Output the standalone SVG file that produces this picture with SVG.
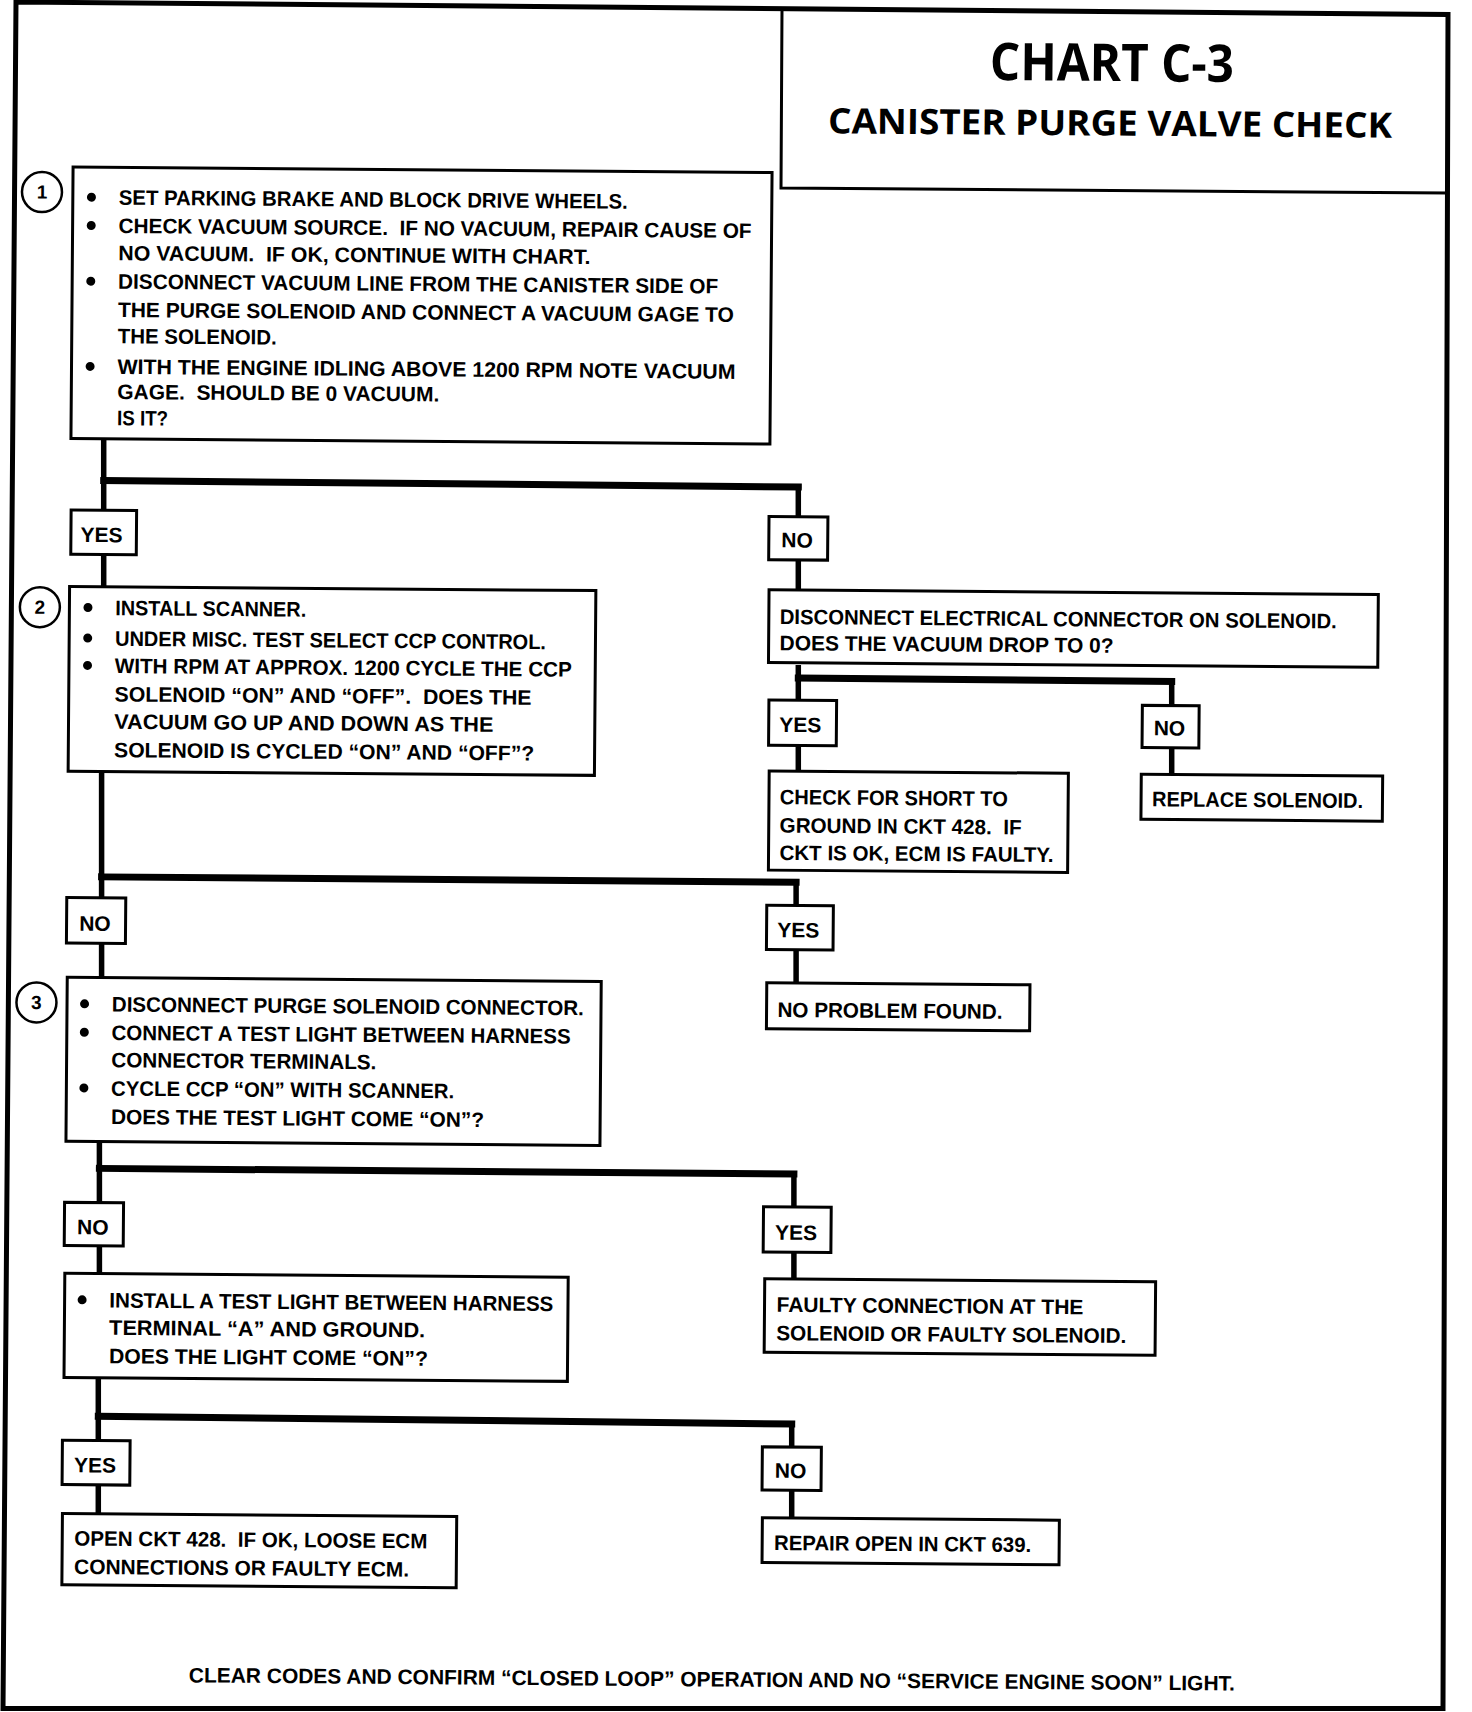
<svg xmlns="http://www.w3.org/2000/svg" width="1472" height="1712" viewBox="0 0 1472 1712">
<style>
.box{fill:#fff;stroke:#000;stroke-width:3}
.lbl{fill:#fff;stroke:#000;stroke-width:3}
.t{font-family:"Liberation Sans",Arial,sans-serif;font-weight:700;font-size:21px;fill:#000;white-space:pre}
.ti{font-family:"Open Sans","Liberation Sans",sans-serif;font-weight:700;fill:#000}
.c{text-anchor:middle}
.v{stroke:#000;stroke-width:5.5;fill:none}
.h{stroke:#000;stroke-width:7;fill:none;stroke-linecap:square}
.num{fill:#fff;stroke:#000;stroke-width:2.5}
.n{font-family:"Liberation Sans",Arial,sans-serif;font-weight:700;font-size:19px;text-anchor:middle}
</style>
<rect width="1472" height="1712" fill="#fff"/>
<g id="frame">
<polygon points="16,2 1448,14.5 1443,1708.5 3,1708.5" fill="none" stroke="#000" stroke-width="5"/>
</g>
<g id="title">
<polyline points="782,9 781,188 1448,193" fill="none" stroke="#000" stroke-width="3"/>
<text class="ti" x="990" y="81" style="font-size:52px" textLength="244" lengthAdjust="spacingAndGlyphs" transform="rotate(0.45 1112 64)">CHART C-3</text>
<text class="ti" x="828" y="135.5" style="font-size:35px" textLength="564" lengthAdjust="spacingAndGlyphs" transform="rotate(0.45 1110 123)">CANISTER PURGE VALVE CHECK</text>
</g>
<g id="connectors">
<line class="v" x1="103.7" y1="440" x2="103.7" y2="588"/>
<line class="h" x1="103.7" y1="480.5" x2="798.3" y2="487"/>
<line class="v" x1="798.3" y1="484" x2="798.3" y2="593"/>
<line class="v" x1="798.3" y1="665" x2="798.3" y2="773"/>
<line class="h" x1="798.3" y1="678.1" x2="1171.7" y2="681.4"/>
<line class="v" x1="1171.7" y1="679" x2="1171.7" y2="776"/>
<line class="v" x1="101.6" y1="773" x2="101.6" y2="980"/>
<line class="h" x1="101.6" y1="876.9" x2="796.1" y2="882.3"/>
<line class="v" x1="796.1" y1="879" x2="796.1" y2="985"/>
<line class="v" x1="99.4" y1="1143" x2="99.4" y2="1276"/>
<line class="h" x1="99.4" y1="1168.4" x2="793.9" y2="1173.9"/>
<line class="v" x1="793.9" y1="1171" x2="793.9" y2="1281"/>
<line class="v" x1="98.3" y1="1379" x2="98.3" y2="1516"/>
<line class="h" x1="98.3" y1="1416.3" x2="791.7" y2="1424"/>
<line class="v" x1="791.7" y1="1421" x2="791.7" y2="1520"/>
</g>
<g id="labels">
<g id="lblA" transform="rotate(0.45 103.7 532.3)"><rect class="lbl" x="70.95" y="510.2" width="65.5" height="44.2"/><text class="t c" x="101.6" y="542.1">YES</text></g>
<g id="lblB" transform="rotate(0.45 798.3 538.3)"><rect class="lbl" x="768.85" y="516.7" width="58.9" height="43.2"/><text class="t c" x="797.2" y="547.5">NO</text></g>
<g id="lblD" transform="rotate(0.45 802.6 722.9)"><rect class="lbl" x="768.75" y="700.25" width="67.7" height="45.3"/><text class="t c" x="800.4" y="732.1">YES</text></g>
<g id="lblF" transform="rotate(0.45 1170.6 726.7)"><rect class="lbl" x="1142.2" y="705.6" width="56.8" height="42.2"/><text class="t c" x="1169.5" y="735.4">NO</text></g>
<g id="lblH" transform="rotate(0.45 96.1 920.5)"><rect class="lbl" x="66.6" y="897.8" width="59" height="45.4"/><text class="t c" x="95" y="930.8">NO</text></g>
<g id="lblI" transform="rotate(0.45 799.9 927.6)"><rect class="lbl" x="766.6" y="905.5" width="66.6" height="44.2"/><text class="t c" x="798.3" y="937.4">YES</text></g>
<g id="lblK" transform="rotate(0.45 93.9 1224.2)"><rect class="lbl" x="64.4" y="1202.6" width="59" height="43.2"/><text class="t c" x="92.8" y="1234.4">NO</text></g>
<g id="lblL" transform="rotate(0.45 797.2 1229.6)"><rect class="lbl" x="763.35" y="1206.95" width="67.7" height="45.3"/><text class="t c" x="796.1" y="1239.9">YES</text></g>
<g id="lblN" transform="rotate(0.45 96.1 1462.7)"><rect class="lbl" x="62.25" y="1440.55" width="67.7" height="44.3"/><text class="t c" x="95" y="1472.5">YES</text></g>
<g id="lblO" transform="rotate(0.45 791.7 1468.7)"><rect class="lbl" x="762.2" y="1447.1" width="59" height="43.2"/><text class="t c" x="790.6" y="1478">NO</text></g>
</g>
<g id="step1" transform="rotate(0.45 421.5 305.5)">
<rect class="box" x="72" y="169.75" width="699" height="271.5"/>
<circle class="num" cx="41.1" cy="195" r="20"/>
<text class="n" x="41.1" y="201.5">1</text>
<circle cx="90.6" cy="199.8" r="4.5"/>
<circle cx="90.6" cy="228.1" r="4.5"/>
<circle cx="90.6" cy="283.8" r="4.5"/>
<circle cx="90.6" cy="369" r="4.5"/>
<text class="t" x="118" y="207.1" textLength="509" lengthAdjust="spacingAndGlyphs">SET PARKING BRAKE AND BLOCK DRIVE WHEELS.</text>
<text class="t" x="118" y="235.4" textLength="633" lengthAdjust="spacingAndGlyphs">CHECK VACUUM SOURCE.  IF NO VACUUM, REPAIR CAUSE OF</text>
<text class="t" x="118" y="262.7" textLength="472" lengthAdjust="spacingAndGlyphs">NO VACUUM.  IF OK, CONTINUE WITH CHART.</text>
<text class="t" x="118" y="291.1" textLength="600" lengthAdjust="spacingAndGlyphs">DISCONNECT VACUUM LINE FROM THE CANISTER SIDE OF</text>
<text class="t" x="118" y="319.5" textLength="616" lengthAdjust="spacingAndGlyphs">THE PURGE SOLENOID AND CONNECT A VACUUM GAGE TO</text>
<text class="t" x="118" y="345.7" textLength="159" lengthAdjust="spacingAndGlyphs">THE SOLENOID.</text>
<text class="t" x="118" y="376.3" textLength="618" lengthAdjust="spacingAndGlyphs">WITH THE ENGINE IDLING ABOVE 1200 RPM NOTE VACUUM</text>
<text class="t" x="118" y="401.4" textLength="322" lengthAdjust="spacingAndGlyphs">GAGE.  SHOULD BE 0 VACUUM.</text>
<text class="t" x="118" y="427.6" textLength="51" lengthAdjust="spacingAndGlyphs">IS IT?</text>
</g>
<g id="step2" transform="rotate(0.45 332 680.9)">
<rect class="box" x="68.85" y="588.5" width="526.3" height="184.8"/>
<circle class="num" cx="39.3" cy="609.5" r="20"/>
<text class="n" x="39.3" y="616">2</text>
<circle cx="87.4" cy="609.4" r="4.5"/>
<circle cx="87.4" cy="640" r="4.5"/>
<circle cx="87.4" cy="667.3" r="4.5"/>
<text class="t" x="114.7" y="616.9" textLength="191" lengthAdjust="spacingAndGlyphs">INSTALL SCANNER.</text>
<text class="t" x="114.7" y="647.5" textLength="431" lengthAdjust="spacingAndGlyphs">UNDER MISC. TEST SELECT CCP CONTROL.</text>
<text class="t" x="114.7" y="674.8" textLength="457" lengthAdjust="spacingAndGlyphs">WITH RPM AT APPROX. 1200 CYCLE THE CCP</text>
<text class="t" x="114.7" y="703.2" textLength="417" lengthAdjust="spacingAndGlyphs">SOLENOID “ON” AND “OFF”.  DOES THE</text>
<text class="t" x="114.7" y="730.5" textLength="379" lengthAdjust="spacingAndGlyphs">VACUUM GO UP AND DOWN AS THE</text>
<text class="t" x="114.7" y="758.9" textLength="420" lengthAdjust="spacingAndGlyphs">SOLENOID IS CYCLED “ON” AND “OFF”?</text>
</g>
<g id="disconnectElectrical" transform="rotate(0.45 1073.4 628.5)">
<rect class="box" x="768.75" y="592.15" width="609.3" height="72.7"/>
<text class="t" x="779.7" y="626.3" textLength="557" lengthAdjust="spacingAndGlyphs">DISCONNECT ELECTRICAL CONNECTOR ON SOLENOID.</text>
<text class="t" x="779.7" y="652.5" textLength="334" lengthAdjust="spacingAndGlyphs">DOES THE VACUUM DROP TO 0?</text>
</g>
<g id="checkShort" transform="rotate(0.45 918.4 821.7)">
<rect class="box" x="768.8" y="772.1" width="299.2" height="99.2"/>
<text class="t" x="779.7" y="805.3" textLength="228" lengthAdjust="spacingAndGlyphs">CHECK FOR SHORT TO</text>
<text class="t" x="779.7" y="833.7" textLength="242" lengthAdjust="spacingAndGlyphs">GROUND IN CKT 428.  IF</text>
<text class="t" x="779.7" y="861" textLength="274" lengthAdjust="spacingAndGlyphs">CKT IS OK, ECM IS FAULTY.</text>
</g>
<g id="replaceSolenoid" transform="rotate(0.45 1261.8 797.7)">
<rect class="box" x="1141.1" y="775.15" width="241.4" height="45.1"/>
<text class="t" x="1152.1" y="807.2" textLength="211" lengthAdjust="spacingAndGlyphs">REPLACE SOLENOID.</text>
</g>
<g id="noProblem" transform="rotate(0.45 898.2 1006.8)">
<rect class="box" x="766.6" y="983.8" width="263.2" height="46"/>
<text class="t" x="777.5" y="1018" textLength="225" lengthAdjust="spacingAndGlyphs">NO PROBLEM FOUND.</text>
</g>
<g id="step3" transform="rotate(0.45 333.6 1061.4)">
<rect class="box" x="66.6" y="979.4" width="534" height="164"/>
<circle class="num" cx="36" cy="1004.8" r="20"/>
<text class="n" x="36" y="1011.3">3</text>
<circle cx="84.1" cy="1005.8" r="4.5"/>
<circle cx="84.1" cy="1034.2" r="4.5"/>
<circle cx="84.1" cy="1089.9" r="4.5"/>
<text class="t" x="111.4" y="1013.3" textLength="472" lengthAdjust="spacingAndGlyphs">DISCONNECT PURGE SOLENOID CONNECTOR.</text>
<text class="t" x="111.4" y="1041.7" textLength="459" lengthAdjust="spacingAndGlyphs">CONNECT A TEST LIGHT BETWEEN HARNESS</text>
<text class="t" x="111.4" y="1069" textLength="265" lengthAdjust="spacingAndGlyphs">CONNECTOR TERMINALS.</text>
<text class="t" x="111.4" y="1097.4" textLength="343" lengthAdjust="spacingAndGlyphs">CYCLE CCP “ON” WITH SCANNER.</text>
<text class="t" x="111.4" y="1125.8" textLength="373" lengthAdjust="spacingAndGlyphs">DOES THE TEST LIGHT COME “ON”?</text>
</g>
<g id="faultyConnection" transform="rotate(0.45 959.9 1317)">
<rect class="box" x="764.45" y="1280.2" width="390.9" height="73.5"/>
<text class="t" x="776.4" y="1313.3" textLength="307" lengthAdjust="spacingAndGlyphs">FAULTY CONNECTION AT THE</text>
<text class="t" x="776.4" y="1341.7" textLength="350" lengthAdjust="spacingAndGlyphs">SOLENOID OR FAULTY SOLENOID.</text>
</g>
<g id="step4" transform="rotate(0.45 316.1 1327.3)">
<rect class="box" x="64.4" y="1275.2" width="503.4" height="104.2"/>
<circle cx="81.9" cy="1301.7" r="4.5"/>
<text class="t" x="109.2" y="1309.2" textLength="444" lengthAdjust="spacingAndGlyphs">INSTALL A TEST LIGHT BETWEEN HARNESS</text>
<text class="t" x="109.2" y="1336.5" textLength="316" lengthAdjust="spacingAndGlyphs">TERMINAL “A” AND GROUND.</text>
<text class="t" x="109.2" y="1364.9" textLength="319" lengthAdjust="spacingAndGlyphs">DOES THE LIGHT COME “ON”?</text>
</g>
<g id="openCkt428" transform="rotate(0.45 259.3 1550.6)">
<rect class="box" x="62.15" y="1515" width="394.3" height="71.2"/>
<text class="t" x="74.3" y="1547" textLength="353" lengthAdjust="spacingAndGlyphs">OPEN CKT 428.  IF OK, LOOSE ECM</text>
<text class="t" x="74.3" y="1575.4" textLength="335" lengthAdjust="spacingAndGlyphs">CONNECTIONS OR FAULTY ECM.</text>
</g>
<g id="repairOpen" transform="rotate(0.45 910.7 1541.3)">
<rect class="box" x="762.2" y="1519" width="297" height="44.6"/>
<text class="t" x="774.2" y="1551.1" textLength="257" lengthAdjust="spacingAndGlyphs">REPAIR OPEN IN CKT 639.</text>
</g>
<g id="footer" transform="rotate(0.45 712 1680)">
<text class="t" x="188.9" y="1686.5" textLength="1046" lengthAdjust="spacingAndGlyphs">CLEAR CODES AND CONFIRM “CLOSED LOOP” OPERATION AND NO “SERVICE ENGINE SOON” LIGHT.</text>
</g>
</svg>
